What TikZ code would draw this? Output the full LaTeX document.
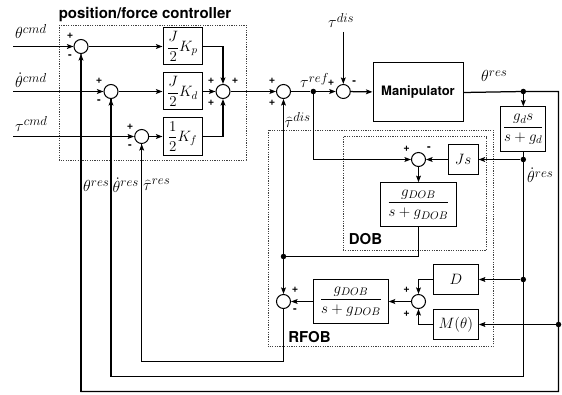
\documentclass[tikz,border=0pt]{standalone}
\usepackage{fix-cm}
\usepackage{fontspec}
\setsansfont{TeX Gyre Heros}
\usetikzlibrary{arrows.meta}
\DeclareMathSizes{16}{16}{13}{10}
\DeclareMathSizes{15}{15}{11}{8.5}
\newcommand{\mfs}{\fontsize{16}{18}\selectfont}
\newcommand{\bfs}{\fontsize{15}{17}\selectfont}
\begin{document}
\begin{tikzpicture}[x=1pt,y=-1pt,
  sumc/.style={circle,draw,line width=1pt,minimum size=14pt,inner sep=0pt,fill=white},
  blk/.style={draw,line width=1pt,inner sep=0pt,fill=white,font=\bfs},
  wire/.style={line width=1.25pt},
  arr/.style={line width=1.25pt,-{Stealth[length=6.5pt,width=4.8pt,inset=1.2pt]}},
  sgn/.style={font=\sffamily\bfseries\fontsize{11}{11}\selectfont,inner sep=0pt},
  lbl/.style={inner sep=0pt,font=\mfs,anchor=base west},
  grp/.style={draw=black!75,dash pattern=on 1.2pt off 1.2pt,line width=0.6pt},
  dotn/.style={circle,fill,minimum size=5.5pt,inner sep=0pt},
  ttl/.style={font=\sffamily\bfseries\fontsize{15}{15}\selectfont,inner sep=0pt}
]
\useasboundingbox (0,0) rectangle (562,395);
% group boxes
\draw[grp] (59,25) rectangle (246,160);
\draw[grp] (268,130) rectangle (493,346.7);
\draw[grp] (343.3,136.7) rectangle (486.7,250);
\node[ttl] (title) at (145,15) {position/force controller};
\node[ttl] (doblbl) at (365.5,239) {DOB};
\node[ttl] (rfoblbl) at (309.5,336.7) {RFOB};
% inputs
\coordinate (in1) at (13,46.5);
\coordinate (in2) at (13,91.5);
\coordinate (in3) at (13,136.5);
% sums
\node[sumc] (s1) at (81,46.5) {};
\node[sumc] (s2) at (111,91.5) {};
\node[sumc] (s3) at (141.7,136.5) {};
\node[sumc] (s4) at (223,91.5) {};
\node[sumc] (s5) at (283.5,91.5) {};
\node[sumc] (s6) at (343.3,91.5) {};
\node[sumc] (s7) at (418.5,159.5) {};
\node[sumc] (s8) at (283.5,301.5) {};
\node[sumc] (s9) at (418.5,301.5) {};
% blocks
\node[blk,minimum width=39pt,minimum height=37pt] (kp) at (182.5,46.5) {$\displaystyle\frac{J}{2}K_p$};
\node[blk,minimum width=39pt,minimum height=37pt] (kd) at (182.5,91.5) {$\displaystyle\frac{J}{2}K_d$};
\node[blk,minimum width=39pt,minimum height=38pt] (kf) at (182.5,136.5) {$\displaystyle\frac{1}{2}K_f$};
\node[blk,minimum width=90pt,minimum height=59pt,font=\sffamily\bfseries\fontsize{13}{13}\selectfont] (man) at (418,92.5) {Manipulator};
\node[blk,minimum width=45.3pt,minimum height=44.7pt] (gd) at (523.3,129.3) {$\displaystyle\frac{g_d s}{s+g_d}$};
\node[blk,minimum width=30pt,minimum height=30pt] (js) at (463,159.5) {$Js$};
\node[blk,minimum width=75.3pt,minimum height=44pt] (dobf) at (418.5,204.7) {$\displaystyle\frac{g_{DOB}}{s+g_{DOB}}$};
\node[blk,minimum width=74.3pt,minimum height=44.3pt] (rfobf) at (351,301.5) {$\displaystyle\frac{g_{DOB}}{s+g_{DOB}}$};
\node[blk,minimum width=45pt,minimum height=29.3pt] (dblk) at (455.8,279.5) {$D$};
\node[blk,minimum width=45pt,minimum height=30pt] (mblk) at (455.8,324.5) {$M(\theta)$};
% dots
\node[dotn] (dref) at (313.3,91.5) {};
\node[dotn] (dres) at (523.3,91.5) {};
\node[dotn] (dvel) at (523.3,159.5) {};
\node[dotn] (dd) at (523.3,279.5) {};
\node[dotn] (dm) at (558.5,324.5) {};
\node[dotn] (ddis) at (283.5,256.5) {};
\coordinate (tdis) at (343.3,32);
% forward wires
\draw[arr] (in1) -- (s1);
\draw[arr] (in2) -- (s2);
\draw[arr] (in3) -- (s3);
\draw[arr] (s1) -- (kp);
\draw[arr] (s2) -- (kd);
\draw[arr] (s3) -- (kf);
\draw[arr] (kp.east) -| (s4.north);
\draw[arr] (kd) -- (s4);
\draw[arr] (kf.east) -| (s4.south);
\draw[arr] (s4) -- (s5);
\draw[wire] (s5) -- (dref);
\draw[arr] (dref) -- (s6);
\draw[arr] (tdis) -- (s6);
\draw[arr] (s6) -- (man);
% output and feedback
\draw[wire] (man.east) -- (dres.center) -- (558.5,91.5) -- (dm.center) -- (558.5,391.5) -| (s1.south);
\draw[arr] (s1.south |- 0,391.5) -- (s1.south);
\draw[arr] (dres) -- (gd.north);
\draw[wire] (gd.south) -- (dvel);
\draw[arr] (dvel) -- (js.east);
\draw[arr] (js.west) -- (s7.east);
\draw[wire] (dvel.center) -- (dd.center) -- (523.3,376.5) -| (s2.south);
\draw[arr] (s2.south |- 0,376.5) -- (s2.south);
\draw[arr] (dd) -- (dblk.east);
\draw[arr] (dm) -- (mblk.east);
\draw[arr] (dblk.west) -| (s9.north);
\draw[arr] (mblk.west) -| (s9.south);
\draw[arr] (s9) -- (rfobf.east);
\draw[arr] (rfobf.west) -- (s8.east);
\draw[arr] (dref.center) |- (s7.west);
\draw[arr] (s7) -- (dobf.north);
\draw[wire] (dobf.south) |- (ddis.center);
\draw[arr] (ddis.center) -- (s5.south);
\draw[arr] (ddis.center) -- (s8.north);
\draw[wire] (s8.south) -- (283.5,361.5) -| (s3.south);
\draw[arr] (s3.south |- 0,361.5) -- (s3.south);
% signs
\node[sgn] at (70,36) {+};
\node[sgn] at (70,57) {-};
\node[sgn] at (99,81) {+};
\node[sgn] at (99,102) {-};
\node[sgn] at (130,127) {+};
\node[sgn] at (130,147) {-};
\node[sgn] at (211,81) {+};
\node[sgn] at (235,81) {+};
\node[sgn] at (211,103) {+};
\node[sgn] at (272,81) {+};
\node[sgn] at (272,103) {+};
\node[sgn] at (331,83) {+};
\node[sgn] at (354.3,83) {-};
\node[sgn] at (406.7,149) {+};
\node[sgn] at (429,149) {-};
\node[sgn] at (295,290) {+};
\node[sgn] at (295,310.7) {-};
\node[sgn] at (406.7,290) {+};
\node[sgn] at (406.7,314) {+};
% labels
\node[lbl] (l1) at (15,39) {$\theta^{cmd}$};
\node[lbl] (l2) at (15,88) {$\dot{\theta}^{cmd}$};
\node[lbl] (l3) at (15,131.7) {$\tau^{cmd}$};
\node[lbl] (l4) at (83,192) {$\theta^{res}$};
\node[lbl] (l5) at (112.5,192.5) {$\dot{\theta}^{res}$};
\node[lbl] (l6) at (143,190.5) {$\widehat{\tau}^{res}$};
\node[lbl] (l7) at (300,88) {$\tau^{ref}$};
\node[lbl] (l8) at (284.5,127.5) {$\widehat{\tau}^{dis}$};
\node[lbl] (l9) at (328,28) {$\tau^{dis}$};
\node[lbl] (l10) at (481,82) {$\theta^{res}$};
\node[lbl] (l11) at (527,183) {$\dot{\theta}^{res}$};
\end{tikzpicture}
\end{document}
